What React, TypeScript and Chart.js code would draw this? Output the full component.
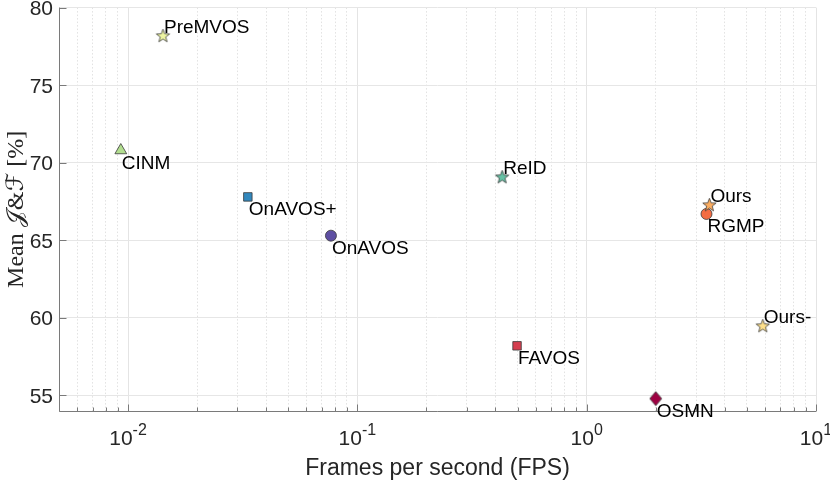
import React, { useEffect, useRef } from 'react';
import { Chart, registerables } from 'chart.js';

Chart.register(...registerables);

// ---------- data ----------
const methods = ['PreMVOS', 'CINM', 'OnAVOS+', 'OnAVOS', 'ReID', 'FAVOS', 'OSMN', 'Ours', 'RGMP', 'Ours-'];
const fps = [0.0142, 0.0093, 0.0333, 0.0767, 0.428, 0.497, 2.0, 3.43, 3.33, 5.86];
const meanJF = [78.2, 70.8, 67.8, 65.3, 69.1, 58.2, 54.8, 67.3, 66.7, 59.5];

const yTicks = [55, 60, 65, 70, 75, 80];
const xMajorTicks = [0.01, 0.1, 1, 10];
const xTickExponents = ['-2', '-1', '0', '1'];
const xMin = 0.005;
const xMax = 10;
const yMin = 54;
const yMax = 80;

const xTitle = 'Frames per second (FPS)';

// ---------- styles ----------
const markerShape: Record<string, string> = {
  PreMVOS: 'star', CINM: 'triangle', 'OnAVOS+': 'rect', OnAVOS: 'circle', ReID: 'star',
  FAVOS: 'rect', OSMN: 'diamond', Ours: 'star', RGMP: 'circle', 'Ours-': 'star',
};
const markerColor: Record<string, string> = {
  PreMVOS: '#eef5a2', CINM: '#b2de8f', 'OnAVOS+': '#3288bd', OnAVOS: '#5e4fa2', ReID: '#66c2a5',
  FAVOS: '#d53e4f', OSMN: '#9e0142', Ours: '#fdae61', RGMP: '#f46d43', 'Ours-': '#fee08b',
};
const labelAbove: Record<string, boolean> = {
  PreMVOS: true, CINM: false, 'OnAVOS+': false, OnAVOS: false, ReID: true,
  FAVOS: false, OSMN: false, Ours: true, RGMP: false, 'Ours-': true,
};

const EDGE = '#3a3a3a';
const SANS = '"Liberation Sans", Arial, Helvetica, sans-serif';
const SERIF = '"Liberation Serif", "DejaVu Serif", serif';

function makeStar(fill: string, R = 7, r = 2.9) {
  const s = Math.ceil(2 * R + 3);
  const c = document.createElement('canvas');
  c.width = s; c.height = s;
  const g = c.getContext('2d')!;
  g.translate(s / 2, s / 2 + 0.6);
  g.beginPath();
  for (let i = 0; i < 10; i++) {
    const rad = i % 2 ? r : R;
    const a = -Math.PI / 2 + (i * Math.PI) / 5;
    g.lineTo(rad * Math.cos(a), rad * Math.sin(a));
  }
  g.closePath();
  g.fillStyle = fill; g.fill();
  g.strokeStyle = EDGE; g.lineWidth = 0.8; g.stroke();
  return c;
}

function makeDiamond(fill: string, w = 12, h = 14) {
  const c = document.createElement('canvas');
  c.width = w + 2; c.height = h + 2;
  const g = c.getContext('2d')!;
  const cx = (w + 2) / 2, cy = (h + 2) / 2;
  g.beginPath();
  g.moveTo(cx, cy - h / 2); g.lineTo(cx + w / 2, cy); g.lineTo(cx, cy + h / 2); g.lineTo(cx - w / 2, cy);
  g.closePath();
  g.fillStyle = fill; g.fill();
  g.strokeStyle = EDGE; g.lineWidth = 0.8; g.stroke();
  return c;
}

function isDecade(v: number) {
  const l = Math.log10(v);
  return Math.abs(l - Math.round(l)) < 1e-9;
}

const decorPlugin = {
  id: 'decor',
  beforeDatasetsDraw(chart: any) {
    const { ctx, chartArea, scales } = chart;
    const xs = scales.x, ys = scales.y;
    ctx.save();
    ctx.strokeStyle = '#7a7a7a';
    ctx.lineWidth = 1;
    // axis lines
    ctx.beginPath();
    ctx.moveTo(Math.round(chartArea.left) + 0.5, chartArea.top);
    ctx.lineTo(Math.round(chartArea.left) + 0.5, Math.round(chartArea.bottom) + 0.5);
    ctx.lineTo(chartArea.right, Math.round(chartArea.bottom) + 0.5);
    ctx.stroke();
    // x ticks (inward)
    const yb = Math.round(chartArea.bottom) + 0.5;
    xs.ticks.forEach((t: any) => {
      const px = Math.round(xs.getPixelForValue(t.value)) + 0.5;
      const len = isDecade(t.value) ? 7 : 4;
      ctx.beginPath(); ctx.moveTo(px, yb); ctx.lineTo(px, yb - len); ctx.stroke();
    });
    // y ticks (inward)
    const xl = Math.round(chartArea.left) + 0.5;
    ys.ticks.forEach((t: any) => {
      const py = Math.round(ys.getPixelForValue(t.value)) + 0.5;
      ctx.beginPath(); ctx.moveTo(xl, py); ctx.lineTo(xl + 7, py); ctx.stroke();
    });
    ctx.restore();
  },
  afterDatasetsDraw(chart: any) {
    const { ctx, scales } = chart;
    ctx.save();
    ctx.font = `19px ${SANS}`;
    ctx.fillStyle = '#000';
    ctx.textAlign = 'left';
    ctx.textBaseline = 'alphabetic';
    methods.forEach((m, i) => {
      const px = scales.x.getPixelForValue(fps[i]);
      const py = scales.y.getPixelForValue(meanJF[i]);
      const by = labelAbove[m] ? py - 2.5 : py + 18.5;
      ctx.fillText(m, px + 1, by);
    });
    ctx.restore();
  },
  afterDraw(chart: any) {
    const { ctx, chartArea, scales } = chart;
    ctx.save();
    ctx.fillStyle = '#262626';
    // y tick labels
    ctx.font = `21px ${SANS}`;
    ctx.textAlign = 'right';
    ctx.textBaseline = 'alphabetic';
    yTicks.forEach((v) => {
      const py = scales.y.getPixelForValue(v);
      ctx.fillText(String(v), chartArea.left - 6, py + 7.5);
    });
    // x tick labels: 10^k
    ctx.textAlign = 'left';
    xMajorTicks.forEach((v, i) => {
      const px = scales.x.getPixelForValue(v);
      ctx.font = `21px ${SANS}`;
      const wBase = ctx.measureText('10').width;
      ctx.font = `16px ${SANS}`;
      const wExp = ctx.measureText(xTickExponents[i]).width;
      const left = px - (wBase + wExp) / 2;
      ctx.font = `21px ${SANS}`;
      ctx.fillText('10', left, 445);
      ctx.font = `16px ${SANS}`;
      ctx.fillText(xTickExponents[i], left + wBase, 435);
    });
    // x title
    ctx.font = `23px ${SANS}`;
    ctx.textAlign = 'center';
    ctx.fillText(xTitle, (chartArea.left + chartArea.right) / 2, 475);
    // y title (rotated, mixed fonts)
    const parts: [string, string][] = [
      ['Mean ', `24px ${SERIF}`],
      ['\u{1D4A5}', `24px "DejaVu Sans", "DejaVu Serif", serif`],
      ['&', `24px ${SERIF}`],
      ['\u2131', `24px "DejaVu Sans", "DejaVu Serif", serif`],
      [' [%]', `24px ${SERIF}`],
    ];
    let total = 0;
    const widths = parts.map(([t, f]) => { ctx.font = f; const w = ctx.measureText(t).width; total += w; return w; });
    ctx.translate(23, (chartArea.top + chartArea.bottom) / 2);
    ctx.rotate(-Math.PI / 2);
    ctx.textAlign = 'left';
    let x = -total / 2;
    parts.forEach(([t, f], i) => { ctx.font = f; ctx.fillText(t, x, 0); x += widths[i]; });
    ctx.restore();
  },
};

export default function App() {
  const ref = useRef<HTMLCanvasElement>(null);
  useEffect(() => {
    document.body.style.margin = '0';
    const canvas = ref.current!;
    const datasets = methods.map((m, i) => {
      const shape = markerShape[m];
      const color = markerColor[m];
      let pointStyle: any = shape;
      let radius = 5.5;
      if (shape === 'star') pointStyle = makeStar(color);
      else if (shape === 'diamond') pointStyle = makeDiamond(color);
      else if (shape === 'rect') radius = 6;
      else if (shape === 'triangle') radius = 6.8;
      return {
        label: m,
        data: [{ x: fps[i], y: meanJF[i] }],
        pointStyle,
        pointRadius: radius,
        pointBackgroundColor: color,
        pointBorderColor: EDGE,
        pointBorderWidth: 0.8,
        showLine: false,
      };
    });
    const xTickVals: number[] = [];
    for (let e = -3; e <= 1; e++) {
      for (let k = 1; k <= 9; k++) {
        const v = k * Math.pow(10, e);
        if (v >= xMin - 1e-12 && v <= xMax + 1e-12) xTickVals.push(Number(v.toPrecision(6)));
      }
    }
    const chart = new Chart(canvas, {
      type: 'scatter',
      data: { datasets },
      options: {
        animation: false,
        responsive: false,
        devicePixelRatio: 1,
        layout: { padding: { top: 7, right: 14, left: 0, bottom: 0 } },
        plugins: { legend: { display: false }, tooltip: { enabled: false } },
        scales: {
          x: {
            type: 'logarithmic',
            min: xMin,
            max: xMax,
            afterBuildTicks: (s: any) => { s.ticks = xTickVals.map((v) => ({ value: v })); },
            afterFit: (s: any) => { s.height = 70; s.paddingLeft = 0; s.paddingRight = 0; },
            ticks: { display: false },
            grid: {
              drawTicks: false,
              color: (c: any) => (c.tick && isDecade(c.tick.value) ? '#e4e4e4' : '#e2e2e2'),
              lineWidth: 1,
            },
            border: {
              display: false,
              dash: (c: any) => (c.tick && !isDecade(c.tick.value) ? [1.5, 2] : []),
            },
          },
          y: {
            type: 'linear',
            min: yMin,
            max: yMax,
            afterBuildTicks: (s: any) => { s.ticks = yTicks.map((v) => ({ value: v })); },
            afterFit: (s: any) => { s.width = 59; s.paddingTop = 0; s.paddingBottom = 0; },
            ticks: { display: false },
            grid: { drawTicks: false, color: '#e6e6e6', lineWidth: 1 },
            border: { display: false },
          },
        },
      },
      plugins: [decorPlugin],
    });
    return () => chart.destroy();
  }, []);
  return <canvas ref={ref} width={830} height={481} style={{ display: 'block' }} />;
}
